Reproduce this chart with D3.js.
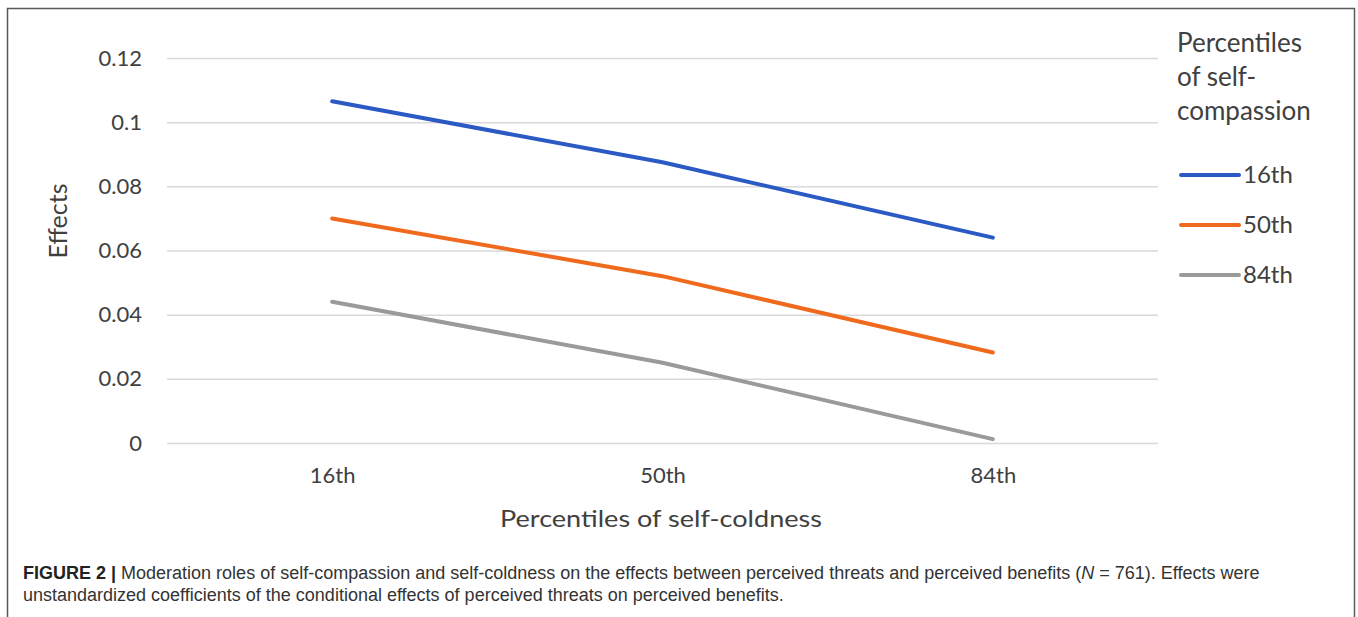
<!DOCTYPE html>
<html>
<head>
<meta charset="utf-8">
<script src="https://cdn.jsdelivr.net/npm/d3@7"></script>
<style>
  html, body { margin: 0; padding: 0; background: #fff; }
  .grid line { stroke: #d9d9d9; stroke-width: 1.5; }
  .tick text { fill: #404040; font-family: Lato, sans-serif; }
</style>
</head>
<body>
<div id="chart"></div>
<script>
'use strict';

var categories = ['16th', '50th', '84th'];
var seriesNames = ['16th', '50th', '84th'];
var series16 = [0.1065, 0.0875, 0.0640];
var series50 = [0.0700, 0.0520, 0.0282];
var series84 = [0.0440, 0.0250, 0.0012];
var yTicks = [0, 0.02, 0.04, 0.06, 0.08, 0.1, 0.12];
var yTickLabels = ['0', '0.02', '0.04', '0.06', '0.08', '0.1', '0.12'];
var colors = ['#2b5ac4', '#ef6a1c', '#9a9a9a'];

var w = 1358;
var h = 617;

var svg = d3.select('#chart').append('svg')
  .attr('width', w)
  .attr('height', h);

/* Outer frame */

svg.append('rect')
  .attr('x', 7.5)
  .attr('y', 8.5)
  .attr('width', 1347)
  .attr('height', 640)
  .style('fill', 'none')
  .style('stroke', '#5a5a5a')
  .style('stroke-width', 1.5);

var x = d3.scalePoint()
  .domain(categories)
  .range([167, 1158])
  .padding(0.5);

var y = d3.scaleLinear()
  .domain([0, 0.12])
  .range([443, 58]);

/* Y axis with gridlines */

var yAxis = svg.append('g')
  .attr('class', 'grid')
  .attr('transform', 'translate(167,0)')
  .call(d3.axisLeft(y)
    .tickValues(yTicks)
    .tickSize(-(1158 - 167))
    .tickPadding(25)
    .tickFormat(function (d, i) { return yTickLabels[i]; }));

yAxis.select('.domain').remove();
yAxis.selectAll('text').attr('font-size', '22px');

/* X axis */

var xAxis = svg.append('g')
  .attr('transform', 'translate(0,443)')
  .call(d3.axisBottom(x).tickSize(0).tickPadding(24));

xAxis.select('.domain').remove();
xAxis.selectAll('text').attr('font-size', '22px');

/* Series lines */

var allSeries = [series16, series50, series84];

var line = d3.line()
  .x(function (d, i) { return x(categories[i]); })
  .y(function (d) { return y(d); });

svg.selectAll('path.series')
  .data(allSeries)
  .enter()
  .append('path')
  .attr('class', 'series')
  .attr('d', line)
  .style('fill', 'none')
  .style('stroke', function (d, i) { return colors[i]; })
  .style('stroke-width', 4)
  .style('stroke-linecap', 'round');

/* Axis titles */

svg.append('text')
  .text('Percentiles of self-coldness')
  .attr('x', 661)
  .attr('y', 527)
  .attr('text-anchor', 'middle')
  .attr('font-family', 'Lato, sans-serif')
  .attr('font-size', '24px')
  .attr('textLength', 322)
  .attr('lengthAdjust', 'spacingAndGlyphs')
  .attr('fill', '#404040');

svg.append('text')
  .text('Effects')
  .attr('transform', 'translate(67,221) rotate(-90)')
  .attr('text-anchor', 'middle')
  .attr('font-family', 'Lato, sans-serif')
  .attr('font-size', '25px')
  .attr('textLength', 75)
  .attr('lengthAdjust', 'spacingAndGlyphs')
  .attr('fill', '#404040');

/* Legend */

var legendTitle = ['Percentiles', 'of self-', 'compassion'];

svg.selectAll('text.legend-title')
  .data(legendTitle)
  .enter()
  .append('text')
  .attr('class', 'legend-title')
  .text(function (d) { return d; })
  .attr('x', 1177)
  .attr('y', function (d, i) { return 52 + i * 34; })
  .attr('font-family', 'Lato, sans-serif')
  .attr('font-size', '26px')
  .attr('fill', '#404040');

var legend = svg.selectAll('g.legend-item')
  .data(seriesNames)
  .enter()
  .append('g')
  .attr('class', 'legend-item')
  .attr('transform', function (d, i) { return 'translate(0,' + (175 + i * 50) + ')'; });

legend.append('line')
  .attr('x1', 1181)
  .attr('x2', 1239)
  .attr('y1', 0)
  .attr('y2', 0)
  .style('stroke', function (d, i) { return colors[i]; })
  .style('stroke-width', 4)
  .style('stroke-linecap', 'round');

legend.append('text')
  .text(function (d) { return d; })
  .attr('x', 1243)
  .attr('y', 8)
  .attr('font-family', 'Lato, sans-serif')
  .attr('font-size', '24px')
  .attr('fill', '#404040');

/* Caption */

var cap1 = svg.append('text')
  .attr('x', 23)
  .attr('y', 579)
  .attr('font-family', '"Liberation Sans", Arial, sans-serif')
  .attr('font-size', '18px')
  .attr('fill', '#333');

cap1.append('tspan').text('FIGURE 2 | ').attr('font-weight', 'bold').attr('fill', '#222');
cap1.append('tspan').text('Moderation roles of self-compassion and self-coldness on the effects between perceived threats and perceived benefits (');
cap1.append('tspan').text('N').attr('font-style', 'italic');
cap1.append('tspan').text(' = 761). Effects were');

svg.append('text')
  .text('unstandardized coefficients of the conditional effects of perceived threats on perceived benefits.')
  .attr('x', 23)
  .attr('y', 601)
  .attr('font-family', '"Liberation Sans", Arial, sans-serif')
  .attr('font-size', '18px')
  .attr('fill', '#333');
</script>
</body>
</html>
